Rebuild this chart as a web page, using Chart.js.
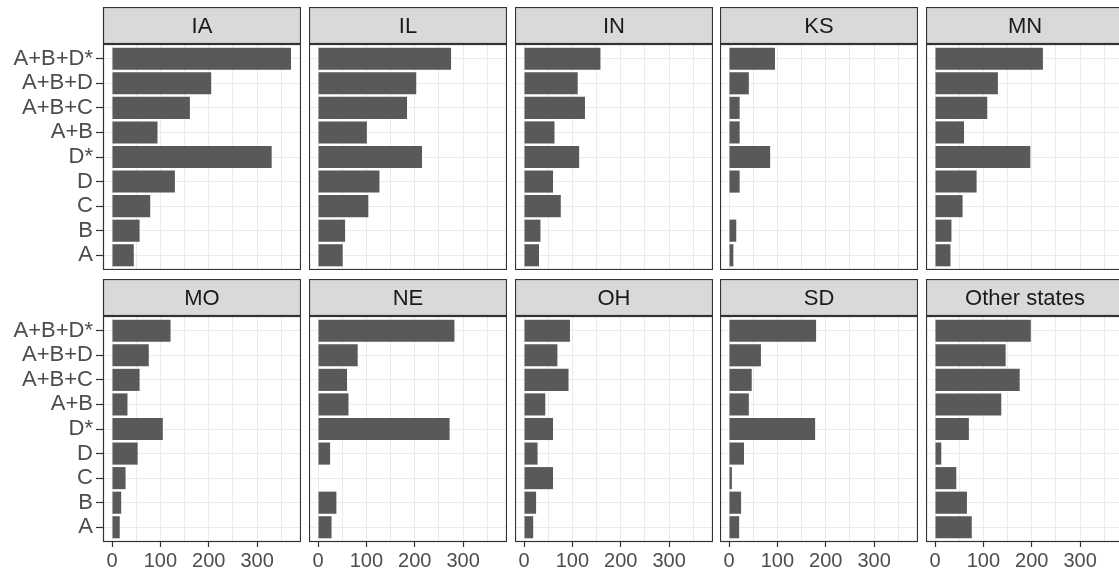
<!DOCTYPE html>
<html>
<head>
<meta charset="utf-8">
<script src="https://cdn.jsdelivr.net/npm/chart.js@4.4.0/dist/chart.umd.min.js"></script>
<style>
    body { margin: 0; background: #ffffff; width: 1119px; height: 574px; overflow: hidden; position: relative; }
    canvas { position: absolute; }
</style>
</head>
<body>
<script>
// categories, top to bottom
const categories = ['A+B+D*', 'A+B+D', 'A+B+C', 'A+B', 'D*', 'D', 'C', 'B', 'A'];
const states = ['IA', 'IL', 'IN', 'KS', 'MN', 'MO', 'NE', 'OH', 'SD', 'Other states'];

// counts per state, same order as categories
const iaValues = [370, 205, 161, 94, 330, 130, 79, 57, 45];
const ilValues = [275, 203, 184, 101, 215, 127, 104, 56, 51];
const inValues = [158, 111, 126, 63, 114, 60, 76, 34, 31];
const ksValues = [95, 41, 22, 22, 85, 22, null, 15, 9];
const mnValues = [223, 130, 108, 60, 197, 86, 57, 34, 32];
const moValues = [121, 76, 57, 32, 105, 53, 28, 19, 16];
const neValues = [282, 82, 60, 63, 272, 25, null, 38, 28];
const ohValues = [95, 69, 92, 44, 60, 28, 60, 25, 19];
const sdValues = [180, 66, 47, 41, 178, 31, 6, 25, 21];
const otherValues = [198, 146, 175, 137, 70, 13, 44, 66, 76];

const xTickValues = [0, 100, 200, 300];
const xGridValues = [0, 50, 100, 150, 200, 250, 300, 350];

const seriesByState = [iaValues, ilValues, inValues, ksValues, mnValues,
                       moValues, neValues, ohValues, sdValues, otherValues];

// facet geometry
const PANEL_W = 198;
const PANEL_H = 226;
const STRIP_H = 37;
const Y_AXIS_W = 103;
const X_AXIS_H = 32;
const colLefts = [103, 309, 515, 720, 926];
const rowTops = [7, 279];
const FONT = "'Liberation Sans', Arial, sans-serif";

const stripPlugin = {
    id: 'strip',
    afterDraw(chart, args, opts) {
        const { ctx, chartArea } = chart;
        const { left, right, top, bottom } = chartArea;
        ctx.save();
        ctx.fillStyle = '#D9D9D9';
        ctx.fillRect(left, top - STRIP_H, right - left, STRIP_H);
        ctx.strokeStyle = '#333333';
        ctx.lineWidth = 1.2;
        ctx.strokeRect(left + 0.5, top - STRIP_H + 0.5, right - left - 1, STRIP_H - 1);
        ctx.strokeRect(left + 0.5, top + 0.5, right - left - 1, bottom - top - 1);
        ctx.fillStyle = '#1A1A1A';
        ctx.font = '22px ' + FONT;
        ctx.textAlign = 'center';
        ctx.textBaseline = 'middle';
        ctx.fillText(opts.text, (left + right) / 2, top - STRIP_H / 2 + 1);
        ctx.restore();
    }
};

function makePanel(index) {
    const col = index % 5;
    const row = Math.floor(index / 5);
    const showY = col === 0;
    const showX = row === 1;
    const padL = showY ? Y_AXIS_W : 0;
    const padB = showX ? X_AXIS_H : 0;

    const canvas = document.createElement('canvas');
    canvas.width = padL + PANEL_W;
    canvas.height = STRIP_H + PANEL_H + padB;
    canvas.style.left = (colLefts[col] - padL) + 'px';
    canvas.style.top = rowTops[row] + 'px';
    document.body.appendChild(canvas);

    const values = seriesByState[index];

    return new Chart(canvas, {
        type: 'bar',
        data: {
            datasets: [{
                data: values.map((v, i) => ({ x: v, y: i })),
                backgroundColor: '#595959',
                borderWidth: 0,
                barPercentage: 0.9,
                categoryPercentage: 1
            }]
        },
        options: {
            indexAxis: 'y',
            responsive: false,
            animation: false,
            events: [],
            layout: { padding: { top: STRIP_H, left: 0, right: 0, bottom: 0 } },
            plugins: {
                legend: { display: false },
                tooltip: { enabled: false },
                strip: { text: states[index] }
            },
            scales: {
                x: {
                    type: 'linear',
                    min: -18.6,
                    max: 390.6,
                    offset: false,
                    afterBuildTicks: scale => { scale.ticks = xGridValues.map(v => ({ value: v })); },
                    afterFit: scale => {
                        scale.height = padB;
                        scale.paddingLeft = 0;
                        scale.paddingRight = 0;
                    },
                    border: { display: false },
                    grid: {
                        offset: false,
                        color: '#EBEBEB',
                        lineWidth: 1,
                        drawTicks: showX,
                        tickLength: 5,
                        tickWidth: 1.2,
                        tickColor: ctx => (ctx.tick && ctx.tick.value % 100 === 0) ? '#333333' : 'rgba(0,0,0,0)'
                    },
                    ticks: {
                        display: showX,
                        autoSkip: false,
                        maxRotation: 0,
                        padding: 2,
                        color: '#4D4D4D',
                        font: { size: 20, family: FONT },
                        callback: v => xTickValues.includes(v) ? String(v) : ''
                    }
                },
                y: {
                    type: 'linear',
                    min: -0.6,
                    max: categories.length - 0.4,
                    reverse: true,
                    offset: false,
                    afterBuildTicks: scale => { scale.ticks = categories.map((c, i) => ({ value: i })); },
                    afterFit: scale => {
                        scale.width = padL;
                        scale.paddingTop = 0;
                        scale.paddingBottom = 0;
                    },
                    border: { display: false },
                    grid: {
                        offset: false,
                        color: '#EBEBEB',
                        lineWidth: 1,
                        drawTicks: showY,
                        tickLength: 7,
                        tickWidth: 1.2,
                        tickColor: '#333333'
                    },
                    ticks: {
                        display: showY,
                        autoSkip: false,
                        padding: 3,
                        color: '#4D4D4D',
                        font: { size: 22, family: FONT },
                        callback: v => categories[v]
                    }
                }
            }
        },
        plugins: [stripPlugin]
    });
}

states.forEach((s, i) => makePanel(i));
</script>
</body>
</html>
